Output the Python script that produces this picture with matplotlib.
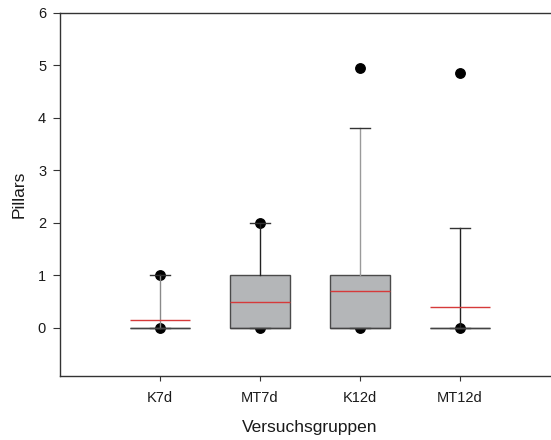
import matplotlib
matplotlib.use("Agg")
import matplotlib.pyplot as plt

plt.rcParams['font.family'] = ['Liberation Sans', 'DejaVu Sans']

groups = ["K7d", "MT7d", "K12d", "MT12d"]
q1 = [0.0, 0.0, 0.0, 0.0]
median = [0.0, 0.0, 0.0, 0.0]
q3 = [0.0, 1.0, 1.0, 0.0]
whisker_low = [0.0, 0.0, 0.0, 0.0]
whisker_high = [1.0, 2.0, 3.8, 1.9]
means = [0.15, 0.5, 0.7, 0.4]
outliers = [[0.0, 1.0], [0.0, 2.0], [0.0, 4.95], [0.0, 4.85]]
y_ticks = [0, 1, 2, 3, 4, 5, 6]

stats = []
for i, name in enumerate(groups):
    stats.append(dict(label=name, q1=q1[i], med=median[i], q3=q3[i],
                      whislo=whisker_low[i], whishi=whisker_high[i],
                      mean=means[i], fliers=outliers[i]))

fig = plt.figure(figsize=(5.51, 4.40), dpi=100)
ax = fig.add_axes([60 / 551, 64 / 440, 500 / 551, 363 / 440])

positions = list(range(1, len(groups) + 1))
art = ax.bxp(stats, positions=positions, widths=0.6, capwidths=0.2,
             patch_artist=True, showmeans=True, meanline=True,
             boxprops=dict(facecolor='#b4b6b8', edgecolor='#4a4a4a', linewidth=1.0),
             medianprops=dict(color='#444444', linewidth=1.0),
             meanprops=dict(color='#d63a3a', linewidth=1.0, linestyle='-'),
             whiskerprops=dict(color='#333333', linewidth=1.0),
             capprops=dict(color='#333333', linewidth=1.0),
             flierprops=dict(marker='o', markerfacecolor='black',
                             markeredgecolor='black', markersize=6.8))

whisker_colors = ['#8a8a8a', '#222222', '#9a9a9a', '#222222']
for i, c in enumerate(whisker_colors):
    for w in art['whiskers'][2 * i:2 * i + 2]:
        w.set_color(c)
for b in art['boxes']:
    b.set_zorder(2)
for f in art['fliers']:
    f.set_zorder(1.5)
for m in art['means']:
    m.set_zorder(3)

ax.set_xlim(0, 5)
ax.set_ylim(-0.92, 6)
ax.set_yticks(y_ticks)
ax.set_xticks(positions)
ax.set_xticklabels(groups)

ax.spines['right'].set_visible(False)
for side in ['top', 'bottom', 'left']:
    ax.spines[side].set_color('#333333')
    ax.spines[side].set_linewidth(1.0)

ax.tick_params(axis='y', direction='out', length=5, width=0.8, pad=5,
               labelsize=10.5, colors='#333333', labelcolor='#1a1a1a')
ax.tick_params(axis='x', direction='out', length=3.5, width=0.8, pad=7,
               labelsize=10.5, colors='#333333', labelcolor='#1a1a1a')

ax.set_xlabel("Versuchsgruppen", fontsize=12.5, color='#1a1a1a', labelpad=11)
ax.set_ylabel("Pillars", fontsize=12.5, color='#1a1a1a', labelpad=8)

fig.savefig("out.png", dpi=100)
